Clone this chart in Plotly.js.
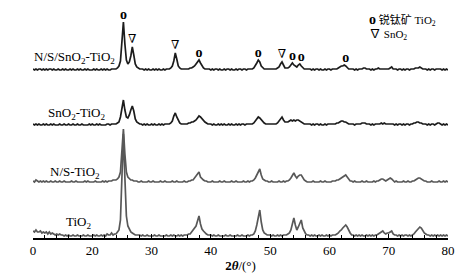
<!DOCTYPE html>
<html><head><meta charset="utf-8">
<script src="https://cdn.plot.ly/plotly-3.0.1.min.js"></script>
<style>html,body{margin:0;padding:0;background:#fff}</style>
</head><body>
<div id="chart" style="width:473px;height:274px"></div>
<script>
// 2θ sampling grid: 10° .. 80° every 0.25°
const thetaStart = 10, thetaStep = 0.25, thetaCount = 281;
const tickVals = [10, 20, 30, 40, 50, 60, 70, 80];
const tickText = ["0", "20", "30", "40", "50", "60", "70", "80"];

const seriesNames = ["TiO<sub>2</sub>", "N/S-TiO<sub>2</sub>", "SnO<sub>2</sub>-TiO<sub>2</sub>", "N/S/SnO<sub>2</sub>-TiO<sub>2</sub>"];

// Intensities (a.u.), one line per degree: x.00, x.25, x.50, x.75
const tio2 = [
7,6,8,6, 6,7,5,6, 5,6,4,6, 4,5,4,3, 4,3,4,3,
3,2,3,2, 3,2,2,3, 2,2,3,2, 2,2,3,2, 2,3,2,2,
2,3,2,3, 2,2,3,2, 3,2,4,3, 3,5,3,4, 4,6,8,18,
55,104,60,22, 12,8,6,5, 4,3,3,3, 3,2,3,2, 2,3,2,2,
2,2,3,2, 2,3,2,2, 2,2,3,2, 2,3,2,3, 2,2,3,2,
3,2,3,3, 3,4,4,6, 8,10,12,17, 22,14,9,7, 5,4,3,3,
3,2,3,2, 2,3,2,2, 2,2,3,2, 2,3,2,2, 2,2,3,2,
2,3,2,2, 2,3,2,3, 3,4,7,13, 21,28,16,8, 5,4,3,3,
3,2,3,2, 2,3,2,3, 2,3,3,3, 4,5,8,14, 20,13,8,11,
15,18,10,6, 4,3,3,2, 3,2,3,2, 2,3,2,3, 2,2,3,2,
3,2,3,3, 3,4,5,7, 8,10,12,13, 11,7,5,3, 3,2,3,2,
3,2,3,2, 2,3,2,3, 2,3,2,3, 3,4,5,6, 7,5,4,5,
5,6,7,4, 3,3,2,3, 2,3,2,3, 3,2,3,2, 3,4,6,8,
9,11,10,7, 5,4,3,3, 2,3,2,3, 2,3,2,3, 2,3,2,3,
2];

const nsTio2 = [
3,2,4,3, 2,3,2,3, 2,3,2,2, 3,2,2,3, 2,2,3,2,
2,3,2,2, 2,2,3,2, 2,3,2,2, 2,2,2,3, 2,3,2,2,
2,2,3,2, 2,2,2,3, 2,3,2,3, 3,3,4,4, 4,5,7,12,
30,55,30,12, 7,5,4,4, 3,3,3,2, 2,3,2,2, 2,2,3,2,
2,3,2,2, 2,2,3,2, 2,3,2,2, 2,2,3,2, 2,3,2,2,
2,2,3,2, 2,3,3,4, 4,6,8,11, 12,7,5,4, 3,3,2,2,
2,3,2,2, 2,2,3,2, 2,3,2,2, 2,2,3,2, 2,3,2,2,
2,2,3,2, 2,3,2,3, 3,4,6,9, 13,15,9,5, 4,3,3,2,
2,3,2,2, 2,2,3,2, 2,3,2,3, 3,4,6,9, 11,8,6,8,
9,9,6,4, 3,2,2,2, 2,3,2,2, 2,2,3,2, 2,3,2,2,
2,2,3,3, 3,4,4,5, 6,7,8,9, 7,5,3,3, 2,3,2,2,
2,2,3,2, 2,3,2,2, 2,2,3,2, 3,3,4,5, 5,4,3,4,
5,6,5,3, 2,3,2,2, 2,2,3,2, 2,3,2,2, 3,3,4,5,
6,6,5,4, 3,3,2,2, 2,3,2,2, 2,2,3,2, 2,3,2,3,
2];

const sno2Tio2 = [
3,2,3,2, 3,2,2,3, 2,3,2,2, 3,2,3,2, 2,2,3,2,
2,3,2,2, 3,2,2,3, 2,2,3,2, 2,3,2,2, 2,2,3,2,
3,2,2,3, 2,3,2,2, 2,2,3,3, 2,3,3,3, 3,4,5,10,
20,27,17,10, 9,12,17,21, 16,8,5,4, 3,3,2,3, 2,3,2,2,
3,2,3,2, 2,3,2,3, 2,3,3,3, 3,4,6,11, 14,10,6,4,
3,3,3,3, 3,4,4,5, 5,6,7,9, 11,10,8,6, 5,4,3,3,
3,2,3,2, 2,3,2,3, 2,3,2,2, 3,2,3,2, 2,3,2,3,
2,3,3,2, 3,3,3,3, 3,4,6,8, 10,9,7,5, 4,3,3,3,
3,3,3,3, 3,4,6,9, 10,7,5,5, 5,6,7,6, 7,6,7,7,
6,5,4,3, 3,3,3,3, 2,3,2,3, 3,2,3,2, 2,3,2,3,
3,3,3,3, 3,4,4,5, 6,6,5,5, 4,3,3,3, 3,2,3,3,
3,3,4,4, 4,3,3,3, 2,3,2,3, 3,3,3,4, 3,4,3,3,
3,3,3,3, 2,3,2,3, 3,2,3,2, 3,3,2,3, 3,4,4,5,
5,4,4,3, 3,3,2,3, 2,3,3,2, 3,4,4,3, 2,3,2,3,
2];

const nsSno2Tio2 = [
3,2,3,2, 3,3,2,3, 2,3,2,3, 3,2,3,2, 2,3,2,2,
3,2,3,2, 2,3,2,3, 2,2,3,2, 3,2,2,3, 2,3,2,2,
2,3,2,3, 2,2,3,2, 3,2,3,2, 2,3,3,3, 3,4,6,11,
30,50,28,12, 8,10,16,25, 17,8,5,4, 3,3,3,2, 3,2,3,2,
2,3,2,3, 2,3,2,2, 3,2,3,3, 3,4,6,11, 19,13,6,4,
3,3,3,3, 3,3,4,4, 5,6,8,10, 12,9,6,4, 3,3,3,3,
2,3,2,3, 3,2,3,2, 2,3,2,3, 3,2,3,2, 2,3,2,3,
3,2,3,3, 2,3,3,3, 3,4,6,9, 12,10,6,4, 3,3,3,3,
3,3,3,3, 3,4,5,8, 10,7,4,4, 4,5,7,9, 7,6,5,7,
8,6,4,3, 3,3,3,3, 2,3,2,3, 3,2,3,2, 2,3,2,3,
3,2,3,3, 3,3,4,5, 6,6,7,6, 4,3,3,3, 3,2,3,2,
3,3,3,4, 4,3,3,3, 2,3,2,3, 3,4,3,3, 3,3,3,3,
3,4,5,3, 3,3,2,3, 3,2,3,2, 3,3,2,3, 3,3,4,4,
4,5,4,3, 3,3,2,3, 2,3,3,2, 3,3,3,3, 2,3,2,3,
2];

// Phase reflections marked on the N/S/SnO2-TiO2 pattern
const anatasePeaks = [25.25, 38.0, 48.0, 53.75, 55.25, 62.75];
const sno2Peaks = [26.75, 34.0, 52.0];
const legendLines = ["<span style=\"font-size:14px\"><b>o</b></span> 锐钛矿 TiO<sub>2</sub>", "<span style=\"font-size:12px\">∇</span> SnO<sub>2</sub>"];

// ---------- drawing ----------
const allSeries = [tio2, nsTio2, sno2Tio2, nsSno2Tio2];
allSeries.forEach((a, i) => { if (a.length !== thetaCount) throw new Error("series " + i + " has " + a.length); });
const theta = Array.from({length: thetaCount}, (_, i) => thetaStart + i * thetaStep);
const stackOffset = [0, 54, 111, 166];
const lineColors = ["#585858", "#585858", "#1c1c1c", "#1c1c1c"];
const serif = "Liberation Serif, Times New Roman, serif";

const traces = allSeries.map((ys, i) => ({
  x: theta, y: ys.map(v => v + stackOffset[i]),
  mode: "lines", line: {color: lineColors[i], width: 1.7},
  hoverinfo: "skip", showlegend: false
}));

function peakTop(series, off, x0) {
  let m = -Infinity;
  theta.forEach((t, i) => { if (Math.abs(t - x0) <= 0.3) m = Math.max(m, series[i]); });
  return m + off;
}
const markSeries = nsSno2Tio2, markOff = stackOffset[3];
traces.push({
  x: anatasePeaks, y: anatasePeaks.map(p => peakTop(markSeries, markOff, p)),
  mode: "text", text: anatasePeaks.map(() => "<b>o</b>"), textposition: "top center",
  textfont: {family: serif, size: 14, color: "#000"}, hoverinfo: "skip", showlegend: false
});
traces.push({
  x: sno2Peaks, y: sno2Peaks.map(p => peakTop(markSeries, markOff, p) + 1),
  mode: "text", text: sno2Peaks.map(() => "∇"), textposition: "top center",
  textfont: {family: "DejaVu Serif, serif", size: 12, color: "#000"}, hoverinfo: "skip", showlegend: false
});

const labelX = [20.1, 21.6, 22.6, 24.2];
const labelY = [16, 66, 125, 181];
const annotations = seriesNames.map((n, i) => ({
  x: labelX[i], y: labelY[i], xref: "x", yref: "y", text: n, showarrow: false,
  xanchor: "right", yanchor: "middle", font: {family: serif, size: 13, color: "#000"}
}));
const legendY = [218, 204];
legendLines.forEach((t, i) => annotations.push({
  x: 66.5, y: legendY[i], xref: "x", yref: "y", text: t, showarrow: false,
  xanchor: "left", yanchor: "middle", borderpad: 0,
  font: {family: serif + ", Noto Sans CJK SC", size: 11, color: "#000"}
}));

const layout = {
  width: 473, height: 274, margin: {l: 33, r: 25, t: 0, b: 36},
  paper_bgcolor: "#fff", plot_bgcolor: "#fff",
  xaxis: {
    range: [10, 80], tickvals: tickVals, ticktext: tickText,
    ticks: "inside", ticklen: 4, tickwidth: 1, tickcolor: "#000",
    minor: {dtick: 2, tick0: 10, ticks: "inside", ticklen: 3, tickcolor: "#000"},
    showline: true, linecolor: "#000", linewidth: 1.5, showgrid: false, zeroline: false,
    tickfont: {family: serif, size: 13, color: "#000"},
    title: {text: "<b>2<i>θ</i></b>/(°)", font: {family: serif, size: 13, color: "#000"}, standoff: 4}
  },
  yaxis: {range: [0, 238], visible: false, fixedrange: true},
  annotations: annotations
};
Plotly.newPlot("chart", traces, layout, {displayModeBar: false, staticPlot: true});
</script>
</body></html>
